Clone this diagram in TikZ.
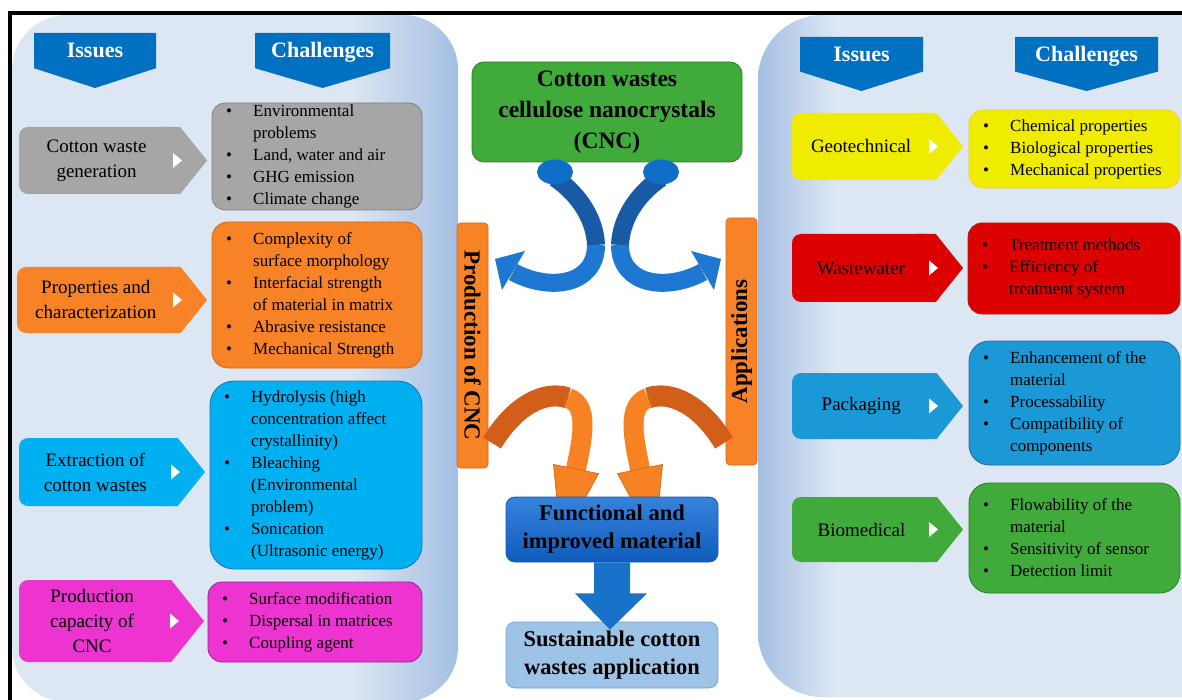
\documentclass[tikz,border=0pt]{standalone}
\usepackage{fontspec}
\setmainfont{Liberation Serif}
\usetikzlibrary{arrows.meta}
\definecolor{panel}{RGB}{221,231,243}
\definecolor{paneldk}{RGB}{164,190,226}
\definecolor{hdr}{RGB}{0,112,192}
\definecolor{cgray}{RGB}{166,166,166}
\definecolor{cgrayd}{RGB}{128,128,128}
\definecolor{corange}{RGB}{247,131,38}
\definecolor{coranged}{RGB}{215,105,30}
\definecolor{ccyan}{RGB}{0,176,240}
\definecolor{ccyand}{RGB}{30,115,185}
\definecolor{cmag}{RGB}{237,52,208}
\definecolor{cmagd}{RGB}{140,40,150}
\definecolor{cyel}{RGB}{240,236,0}
\definecolor{cyeld}{RGB}{245,205,50}
\definecolor{cred}{RGB}{221,0,0}
\definecolor{credd}{RGB}{165,35,20}
\definecolor{cblu}{RGB}{27,152,214}
\definecolor{cblud}{RGB}{40,105,165}
\definecolor{cgrn}{RGB}{64,170,58}
\definecolor{cgrnd}{RGB}{45,125,45}
\definecolor{arrdk}{RGB}{24,90,165}
\definecolor{arrlt}{RGB}{30,120,210}
\definecolor{arrel}{RGB}{14,110,200}
\definecolor{ordk}{RGB}{210,95,25}
\definecolor{orlt}{RGB}{247,130,35}
\definecolor{funtop}{RGB}{55,130,218}
\definecolor{funbot}{RGB}{15,92,188}
\definecolor{sus}{RGB}{157,195,230}
\definecolor{susd}{RGB}{120,165,215}
\definecolor{darr}{RGB}{24,115,200}
\newcommand\Bul{\makebox[27pt][l]{\textbullet}}
\newcommand\Cnt{\makebox[27pt]{}}
\newcommand\IssueBox[7]{%
  \pgfmathsetmacro\ibc{(#3+#5)/2}%
  \pgfmathsetmacro\ibb{#4-0.8*(#5-#3)/2}%
  \pgfmathsetmacro\ibm{(#2+\ibb)/2}%
  \fill[#6,rounded corners=9pt] (#2,#3) rectangle (\ibb,#5);
  \fill[#6] ({\ibb-20},#3) -- (\ibb,#3) -- (#4,\ibc) -- (\ibb,#5) -- ({\ibb-20},#5) -- cycle;
  \fill[white] ({#4-34},{\ibc-7.5}) -- ({#4-25},\ibc) -- ({#4-34},{\ibc+7.5}) -- cycle;
  \node[issuetxt] (#1) at ({\ibm-3},\ibc) {#7};
}
\newcommand\ChalBox[8]{%
  \filldraw[fill=#6, draw=#6d, line width=0.8pt, rounded corners=#7pt] (#2,#3) rectangle (#4,#5);
  \node[listtxt, anchor=west] (#1) at ({#2+14},{(#3+#5)/2}) {#8};
}
\newcommand\HdrArrow[6]{%
  \fill[hdr] (#2,#3) -- (#4,#3) -- (#4,{#3+0.64*(#5-#3)}) -- ({(#2+#4)/2},#5) -- (#2,{#3+0.64*(#5-#3)}) -- cycle;
  \node[hdrtxt] (#1) at ({(#2+#4)/2},{#3+0.35*(#5-#3)}) {#6};
}
\begin{document}
\begin{tikzpicture}[x=1pt,y=-1pt,
  issuetxt/.style={font=\fontsize{19}{25}\selectfont, align=center, inner sep=0pt},
  listtxt/.style={font=\fontsize{17}{22}\selectfont, align=left, inner sep=0pt},
  hdrtxt/.style={font=\bfseries\fontsize{22}{26}\selectfont, text=white, inner sep=0pt, text height=15pt, text depth=4pt},
  ctrbox/.style={draw, line width=0.8pt, rounded corners=9pt, align=center, inner sep=0pt,
     font=\bfseries\fontsize{22.5}{28}\selectfont},
  barbox/.style={draw=coranged, fill=corange, line width=0.8pt, rounded corners=4pt, inner sep=0pt,
     font=\bfseries\fontsize{23}{27}\selectfont},
  band/.style={line width=#1},
]
\useasboundingbox (0,0) rectangle (1182,700);
\clip (0,0) rectangle (1182,700);
\fill[white] (0,0) rectangle (1182,700);

% left panel
\begin{scope}
  \clip[rounded corners=55pt] (12,15) rectangle (458,702);
  \fill[panel] (0,0) rectangle (470,710);
  \shade[left color=panel, right color=paneldk] (350,0) rectangle (458,710);
\end{scope}
% right panel
\begin{scope}
  \clip[rounded corners=65pt] (758,15) rectangle (1260,697);
  \fill[panel] (750,0) rectangle (1260,710);
  \shade[left color=paneldk, right color=panel] (758,0) rectangle (835,710);
\end{scope}

% headers
\HdrArrow{hi1}{34}{33}{156}{88}{Issues}
\HdrArrow{hc1}{255}{33}{390}{88}{Challenges}
\HdrArrow{hi2}{800}{37}{923}{91}{Issues}
\HdrArrow{hc2}{1015}{37}{1158}{91}{Challenges}

% left issues
\IssueBox{i1}{19}{127}{207}{194}{cgray}{Cotton waste\\generation}
\IssueBox{i2}{17}{267}{207}{333}{corange}{Properties and\\characterization}
\IssueBox{i3}{19}{438}{205}{506}{ccyan}{Extraction of\\cotton wastes}
\IssueBox{i4}{19}{580}{204}{662}{cmag}{Production\\capacity of\\CNC}

% left challenges
\ChalBox{c1}{212}{103}{422}{210}{cgray}{13}{\Bul Environmental\\\Cnt problems\\\Bul Land, water and air\\\Bul GHG emission\\\Bul Climate change}
\ChalBox{c2}{212}{222}{422}{368}{corange}{16}{\Bul Complexity of\\\Cnt surface morphology\\\Bul Interfacial strength\\\Cnt of material in matrix\\\Bul Abrasive resistance\\\Bul Mechanical Strength}
\ChalBox{c3}{210}{381}{422}{569}{ccyan}{24}{\Bul Hydrolysis (high\\\Cnt concentration affect\\\Cnt crystallinity)\\\Bul Bleaching\\\Cnt (Environmental\\\Cnt problem)\\\Bul Sonication\\\Cnt (Ultrasonic energy)}
\ChalBox{c4}{208}{582}{422}{662}{cmag}{14}{\Bul Surface modification\\\Bul Dispersal in matrices\\\Bul Coupling agent}

% right issues
\IssueBox{r1}{792}{113}{963}{180}{cyel}{Geotechnical}
\IssueBox{r2}{792}{234}{963}{302}{cred}{Wastewater}
\IssueBox{r3}{792}{373}{963}{439}{cblu}{Packaging}
\IssueBox{r4}{792}{497}{963}{562}{cgrn}{Biomedical}

% right challenges
\ChalBox{d1}{969}{110}{1180}{188}{cyel}{14}{\Bul Chemical properties\\\Bul Biological properties\\\Bul Mechanical properties}
\ChalBox{d2}{968}{223}{1180}{314}{cred}{14}{\Bul Treatment methods\\\Bul Efficiency of\\\Cnt treatment system}
\ChalBox{d3}{969}{341}{1180}{465}{cblu}{20}{\Bul Enhancement of the\\\Cnt material\\\Bul Processability\\\Bul Compatibility of\\\Cnt components}
\ChalBox{d4}{969}{483}{1180}{593}{cgrn}{20}{\Bul Flowability of the\\\Cnt material\\\Bul Sensitivity of sensor\\\Bul Detection limit}

% centre column
\node[ctrbox, fill=cgrn, draw=cgrnd, rounded corners=12pt, minimum width=270pt, minimum height=100pt,
      font=\bfseries\fontsize{23.5}{31}\selectfont] (cnc) at (607,112) {Cotton wastes\\cellulose nanocrystals\\(CNC)};
\node[barbox, rotate=-90, minimum width=245pt, minimum height=31pt] (prod) at (472.5,345.5) {Production of CNC};
\node[barbox, rotate=90, minimum width=247pt, minimum height=31pt] (appl) at (741.5,341.5) {Applications};

% blue curved arrows
\draw[band=18pt, arrdk] (555,178) .. controls (580,195) and (595,220) .. (596,245);
\draw[band=18pt, arrlt] (596,245) .. controls (596,285) and (550,292) .. (513,272);
\fill[arrlt] (495,259) -- (525,251) -- (502,290) -- cycle;
\fill[arrel] (555,172) ellipse [x radius=18pt, y radius=12.5pt];

\draw[band=18pt, arrdk] (661,178) .. controls (636,195) and (621,220) .. (620,245);
\draw[band=18pt, arrlt] (620,245) .. controls (620,285) and (666,292) .. (703,272);
\fill[arrlt] (721,259) -- (691,251) -- (714,290) -- cycle;
\fill[arrel] (661,172) ellipse [x radius=18pt, y radius=12.5pt];

% orange curved arrows
\draw[band=21pt, ordk] (492,443) .. controls (515,405) and (545,390) .. (568,398);
\draw[band=20pt, orlt] (568,398) .. controls (590,405) and (582,440) .. (576,469);
\filldraw[fill=orlt, draw=ordk, line width=0.6pt] (553.5,464.4) -- (598.5,473.6) -- (561,542.5) -- cycle;

\draw[band=21pt, ordk] (724,443) .. controls (701,405) and (671,390) .. (648,398);
\draw[band=20pt, orlt] (648,398) .. controls (626,405) and (634,440) .. (640,469);
\filldraw[fill=orlt, draw=ordk, line width=0.6pt] (662.5,464.4) -- (617.5,473.6) -- (655,542.5) -- cycle;

% lower boxes
\node[ctrbox, top color=funtop, bottom color=funbot, draw=funbot, minimum width=212pt, minimum height=65pt] (func) at (612,529.5) {Functional and\\improved material};
\node[ctrbox, fill=sus, draw=susd, minimum width=212pt, minimum height=66pt] (sus) at (612,655) {Sustainable cotton\\wastes application};
\fill[darr] ([xshift=-18pt]func.south) -- ([xshift=18pt]func.south) -- ([xshift=18pt,yshift=-31pt]func.south)
  -- ([xshift=35pt,yshift=-31pt]func.south) -- ([xshift=-2pt,yshift=-8pt]sus.north)
  -- ([xshift=-37pt,yshift=-31pt]func.south) -- ([xshift=-18pt,yshift=-31pt]func.south) -- cycle;

% frame
\draw[line width=4pt] (1190,13) -- (9.5,13) -- (9.5,710);
\end{tikzpicture}
\end{document}
